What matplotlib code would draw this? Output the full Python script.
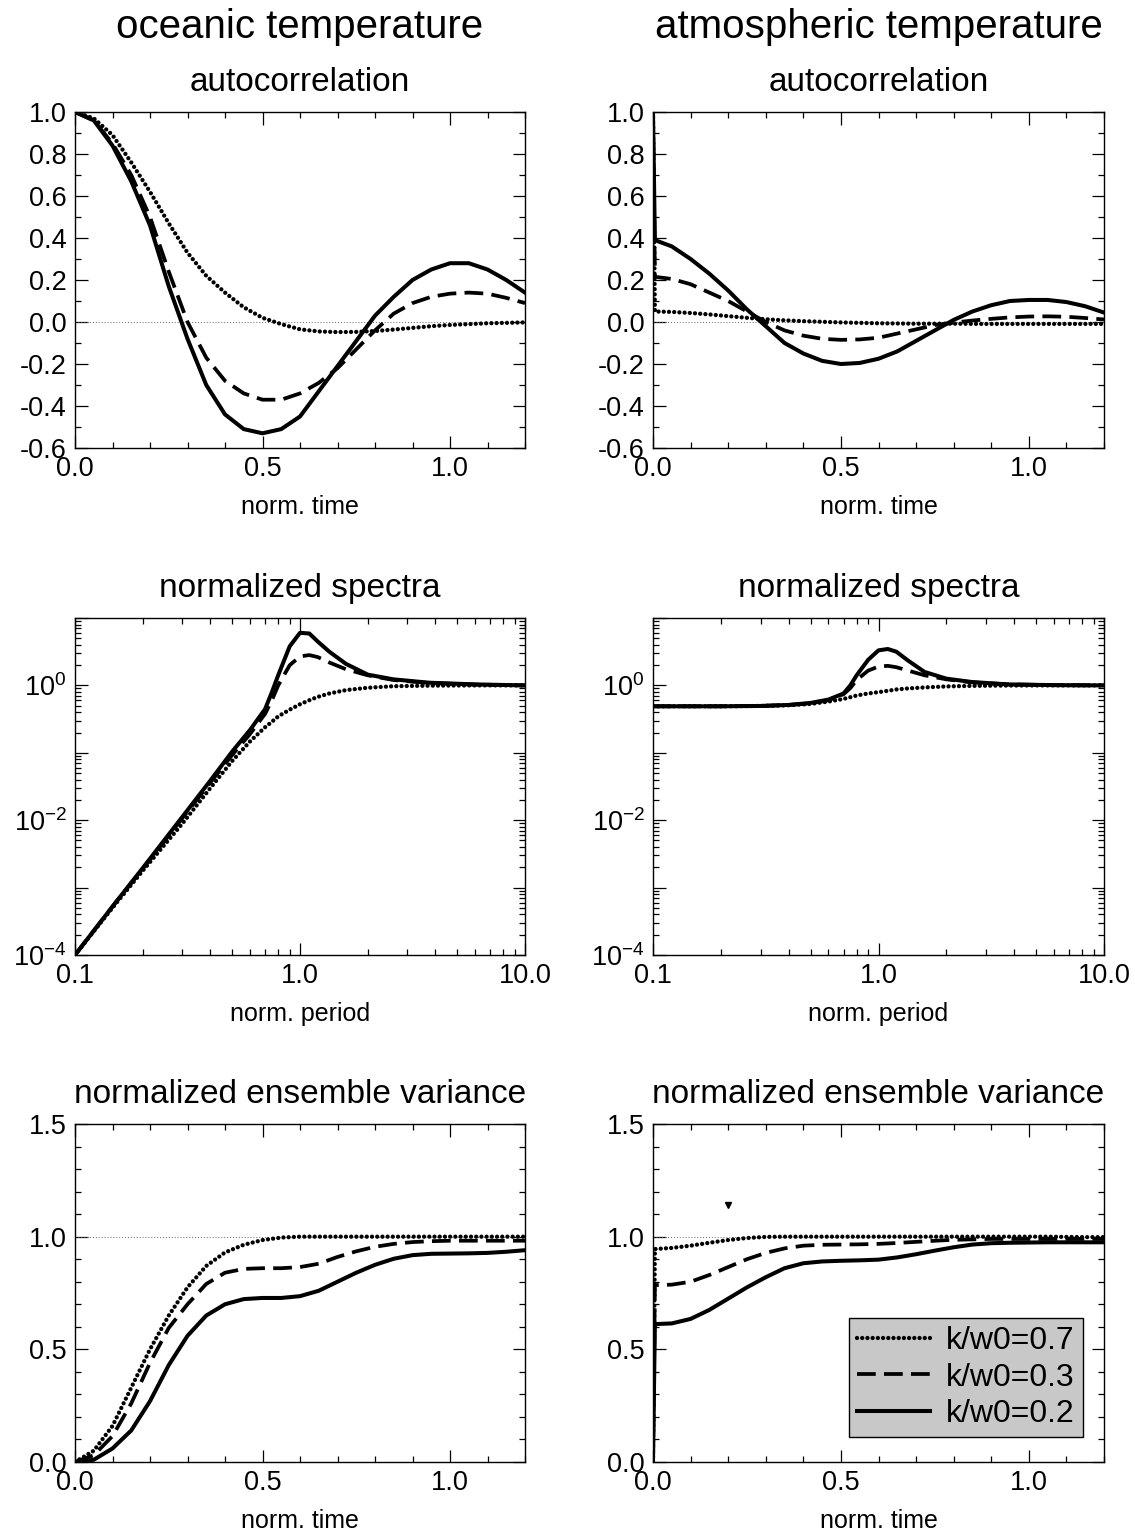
import matplotlib
matplotlib.use('Agg')
import matplotlib.pyplot as plt
from matplotlib.ticker import MultipleLocator, LogLocator, NullFormatter, FormatStrFormatter
import numpy as np

plt.rcParams['font.family'] = ['Liberation Sans', 'DejaVu Sans']
plt.rcParams['axes.unicode_minus'] = False
plt.rcParams['mathtext.default'] = 'regular'

# ---- autocorrelation, oceanic (norm. time) ----
t_ocean = [0.0, 0.05, 0.1, 0.15, 0.2, 0.25, 0.3, 0.35, 0.4, 0.45, 0.5, 0.55, 0.6,
           0.65, 0.7, 0.75, 0.8, 0.85, 0.9, 0.95, 1.0, 1.05, 1.1, 1.15, 1.2]
ac_ocean_07 = [1.0, 0.97, 0.89, 0.76, 0.62, 0.47, 0.33, 0.22, 0.14, 0.07, 0.02, -0.01, -0.035,
               -0.045, -0.048, -0.047, -0.043, -0.036, -0.028, -0.02, -0.014, -0.01, -0.006, -0.004, -0.002]
ac_ocean_03 = [1.0, 0.96, 0.85, 0.70, 0.50, 0.24, 0.0, -0.17, -0.28, -0.34, -0.37, -0.37, -0.34,
               -0.29, -0.22, -0.13, -0.04, 0.04, 0.09, 0.12, 0.135, 0.14, 0.135, 0.115, 0.09]
ac_ocean_02 = [1.0, 0.96, 0.84, 0.67, 0.46, 0.17, -0.08, -0.30, -0.44, -0.51, -0.53, -0.51, -0.45,
               -0.33, -0.21, -0.09, 0.03, 0.12, 0.20, 0.25, 0.28, 0.28, 0.25, 0.20, 0.14]

# ---- autocorrelation, atmospheric ----
t_atmos = [0.0, 0.005, 0.05, 0.1, 0.15, 0.2, 0.25, 0.3, 0.35, 0.4, 0.45, 0.5, 0.55, 0.6,
           0.65, 0.7, 0.75, 0.8, 0.85, 0.9, 0.95, 1.0, 1.05, 1.1, 1.15, 1.2]
ac_atmos_07 = [1.0, 0.05, 0.048, 0.043, 0.036, 0.028, 0.02, 0.013, 0.008, 0.004, 0.001, -0.002, -0.004,
               -0.006, -0.007, -0.008, -0.008, -0.008, -0.009, -0.009, -0.009, -0.009, -0.009, -0.009, -0.009, -0.009]
ac_atmos_03 = [1.0, 0.215, 0.205, 0.18, 0.14, 0.10, 0.05, 0.0, -0.04, -0.065, -0.08, -0.085, -0.083,
               -0.075, -0.055, -0.035, -0.015, -0.003, 0.007, 0.015, 0.022, 0.026, 0.027, 0.025, 0.019, 0.012]
ac_atmos_02 = [1.0, 0.39, 0.36, 0.30, 0.23, 0.15, 0.06, -0.02, -0.10, -0.15, -0.185, -0.20, -0.195,
               -0.175, -0.14, -0.09, -0.04, 0.01, 0.05, 0.08, 0.10, 0.105, 0.105, 0.095, 0.075, 0.045]

# ---- normalized spectra (log10 of value vs norm. period) ----
period = [0.1, 0.15, 0.2, 0.3, 0.4, 0.5, 0.6, 0.7, 0.75, 0.8, 0.9, 1.0, 1.1, 1.2,
          1.35, 1.6, 2.0, 2.6, 3.75, 6.0, 10.0]
spec_ocean_07 = [-4.0, -3.26, -2.75, -2.05, -1.52, -1.12, -0.83, -0.62, -0.54, -0.46, -0.36, -0.28, -0.22, -0.17,
                 -0.12, -0.07, -0.035, -0.012, -0.004, 0.0, 0.0]
spec_ocean_03 = [-4.0, -3.24, -2.72, -1.97, -1.44, -1.03, -0.72, -0.42, -0.22, 0.0, 0.3, 0.43, 0.45, 0.42,
                 0.34, 0.24, 0.15, 0.08, 0.035, 0.012, 0.0]
spec_ocean_02 = [-4.0, -3.24, -2.71, -1.95, -1.41, -0.98, -0.66, -0.35, -0.1, 0.15, 0.58, 0.78, 0.77, 0.65,
                 0.5, 0.32, 0.16, 0.09, 0.04, 0.015, 0.0]
spec_atmos_07 = [-0.31, -0.31, -0.31, -0.305, -0.295, -0.275, -0.24, -0.2, -0.175, -0.15, -0.12, -0.1, -0.08, -0.06,
                 -0.045, -0.03, -0.015, -0.007, -0.002, 0.0, 0.0]
spec_atmos_03 = [-0.31, -0.31, -0.31, -0.305, -0.29, -0.265, -0.22, -0.13, -0.04, 0.08, 0.22, 0.28, 0.29, 0.27,
                 0.22, 0.15, 0.09, 0.045, 0.015, 0.004, 0.0]
spec_atmos_02 = [-0.31, -0.31, -0.31, -0.305, -0.29, -0.26, -0.21, -0.12, 0.0, 0.15, 0.38, 0.52, 0.54, 0.5,
                 0.37, 0.2, 0.1, 0.05, 0.015, 0.004, 0.0]

# ---- normalized ensemble variance ----
var_ocean_07 = [0.0, 0.05, 0.16, 0.33, 0.50, 0.65, 0.775, 0.87, 0.93, 0.964, 0.985, 0.996, 1.0,
                1.0, 1.0, 1.0, 1.0, 1.0, 1.0, 1.0, 1.0, 1.0, 1.0, 1.0, 1.0]
var_ocean_03 = [0.0, 0.03, 0.115, 0.26, 0.44, 0.595, 0.70, 0.79, 0.84, 0.857, 0.86, 0.86, 0.865,
                0.88, 0.91, 0.935, 0.955, 0.968, 0.976, 0.98, 0.982, 0.982, 0.982, 0.982, 0.982]
var_ocean_02 = [0.0, 0.01, 0.06, 0.14, 0.27, 0.43, 0.56, 0.65, 0.70, 0.723, 0.728, 0.728, 0.736,
                0.76, 0.80, 0.84, 0.875, 0.902, 0.918, 0.924, 0.925, 0.926, 0.928, 0.933, 0.94]
var_atmos_07 = [0.0, 0.945, 0.95, 0.96, 0.973, 0.985, 0.994, 0.999, 1.0, 1.0, 1.0, 1.0, 1.0,
                1.0, 1.0, 1.0, 1.0, 1.0, 1.0, 1.0, 1.0, 1.0, 1.0, 0.999, 0.998, 0.998]
var_atmos_03 = [0.0, 0.785, 0.787, 0.80, 0.83, 0.865, 0.90, 0.928, 0.948, 0.96, 0.964, 0.965, 0.966,
                0.968, 0.972, 0.977, 0.982, 0.986, 0.988, 0.99, 0.99, 0.99, 0.99, 0.99, 0.99, 0.99]
var_atmos_02 = [0.0, 0.612, 0.615, 0.635, 0.675, 0.725, 0.775, 0.82, 0.86, 0.882, 0.89, 0.893, 0.895,
                0.898, 0.908, 0.922, 0.938, 0.953, 0.965, 0.971, 0.973, 0.974, 0.975, 0.975, 0.975, 0.975]
stray_mark = (0.2, 1.14)

labels = ['k/w0=0.7', 'k/w0=0.3', 'k/w0=0.2']

DOT = dict(color='k', lw=3.1, linestyle=(0, (0.01, 1.2)), dash_capstyle='round', solid_joinstyle='round')
DASH = dict(color='k', lw=2.7, linestyle=(0, (5, 2.2)))
SOLID = dict(color='k', lw=2.9, solid_joinstyle='round')
styles = [DOT, DASH, SOLID]

W, H = 1135, 1535
fig = plt.figure(figsize=(W / 100, H / 100), dpi=100)


def make_axes(x0, x1, y0, y1):
    return fig.add_axes([x0 / W, 1 - y1 / H, (x1 - x0) / W, (y1 - y0) / H])


cols = [(75, 525), (653, 1104)]
rows = [(112, 448), (618, 955), (1124, 1462)]
axs = [[make_axes(c[0], c[1], r[0], r[1]) for c in cols] for r in rows]

TICK = 19.5
XLAB = 18
SUB = 24


def style(ax):
    ax.tick_params(which='both', direction='in', top=True, right=True, width=0.9, labelsize=TICK, pad=6)
    ax.tick_params(which='major', length=9)
    ax.tick_params(which='minor', length=4.5)
    for s in ax.spines.values():
        s.set_linewidth(1.0)


def curves(ax, x, series, logy=False):
    for ys, st, lab in zip(series, styles, labels):
        y = 10 ** np.array(ys) if logy else ys
        ax.plot(x, y, label=lab, **st)


# row 1: autocorrelation
for ax, x, ser in [(axs[0][0], t_ocean, [ac_ocean_07, ac_ocean_03, ac_ocean_02]),
                   (axs[0][1], t_atmos, [ac_atmos_07, ac_atmos_03, ac_atmos_02])]:
    ax.axhline(0, color='0.4', lw=0.7, ls=(0, (1, 2)))
    curves(ax, x, ser)
    ax.set_xlim(0, 1.2)
    ax.set_ylim(-0.6, 1.0)
    ax.xaxis.set_major_locator(MultipleLocator(0.5))
    ax.xaxis.set_minor_locator(MultipleLocator(0.1))
    ax.yaxis.set_major_locator(MultipleLocator(0.2))
    ax.yaxis.set_minor_locator(MultipleLocator(0.1))
    ax.xaxis.set_major_formatter(FormatStrFormatter('%.1f'))
    ax.yaxis.set_major_formatter(FormatStrFormatter('%.1f'))
    ax.set_title('autocorrelation', fontsize=SUB, pad=15)
    ax.set_xlabel('norm. time', fontsize=XLAB, labelpad=9)
    style(ax)

# row 2: spectra
for ax, ser in [(axs[1][0], [spec_ocean_07, spec_ocean_03, spec_ocean_02]),
                (axs[1][1], [spec_atmos_07, spec_atmos_03, spec_atmos_02])]:
    curves(ax, period, ser, logy=True)
    ax.set_xscale('log')
    ax.set_yscale('log')
    ax.set_xlim(0.1, 10)
    ax.set_ylim(1e-4, 10)
    ax.set_xticks([0.1, 1, 10])
    ax.set_xticklabels(['0.1', '1.0', '10.0'])
    ax.set_yticks([1e-4, 1e-3, 1e-2, 1e-1, 1, 10])
    ax.set_yticklabels(['$10^{-4}$', '', '$10^{-2}$', '', '$10^{0}$', ''])
    ax.xaxis.set_minor_locator(LogLocator(base=10, subs=np.arange(2, 10)))
    ax.yaxis.set_minor_locator(LogLocator(base=10, subs=np.arange(2, 10)))
    ax.xaxis.set_minor_formatter(NullFormatter())
    ax.yaxis.set_minor_formatter(NullFormatter())
    ax.set_title('normalized spectra', fontsize=SUB, pad=15)
    ax.set_xlabel('norm. period', fontsize=XLAB, labelpad=9)
    style(ax)

# row 3: ensemble variance
for ax, x, ser in [(axs[2][0], t_ocean, [var_ocean_07, var_ocean_03, var_ocean_02]),
                   (axs[2][1], t_atmos, [var_atmos_07, var_atmos_03, var_atmos_02])]:
    ax.axhline(1, color='0.4', lw=0.7, ls=(0, (1, 2)))
    curves(ax, x, ser)
    ax.set_xlim(0, 1.2)
    ax.set_ylim(0, 1.5)
    ax.xaxis.set_major_locator(MultipleLocator(0.5))
    ax.xaxis.set_minor_locator(MultipleLocator(0.1))
    ax.yaxis.set_major_locator(MultipleLocator(0.5))
    ax.yaxis.set_minor_locator(MultipleLocator(0.1))
    ax.xaxis.set_major_formatter(FormatStrFormatter('%.1f'))
    ax.yaxis.set_major_formatter(FormatStrFormatter('%.1f'))
    ax.set_title('normalized ensemble variance', fontsize=SUB, pad=15)
    ax.set_xlabel('norm. time', fontsize=XLAB, labelpad=9)
    style(ax)

axs[2][1].plot([stray_mark[0]], [stray_mark[1]], marker='v', color='k', ms=4, ls='none')

leg = axs[2][1].legend(loc='lower right', bbox_to_anchor=((1083 - 653) / 451, (1462 - 1437) / 338),
                       borderaxespad=0, fontsize=23, handlelength=2.3, handletextpad=0.5,
                       fancybox=False, framealpha=1, facecolor='#c8c8c8', edgecolor='k',
                       labelspacing=0.2, borderpad=0.25)
leg.get_frame().set_linewidth(1.0)

fig.text((75 + 525) / 2 / W, 1 - 27 / H, 'oceanic temperature', ha='center', va='center', fontsize=29)
fig.text((653 + 1104) / 2 / W, 1 - 27 / H, 'atmospheric temperature', ha='center', va='center', fontsize=29)

fig.savefig('out.png', dpi=100)
